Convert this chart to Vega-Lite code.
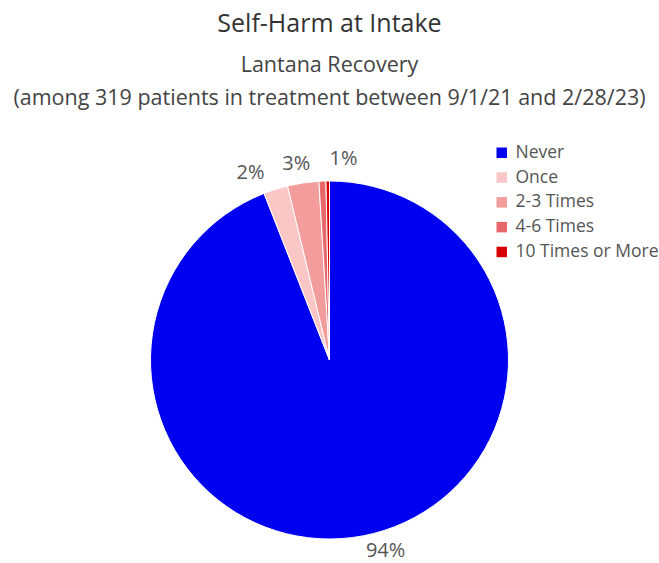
{
  "$schema": "https://vega.github.io/schema/vega-lite/v6.json",
  "width": 659,
  "height": 400,
  "autosize": {"type": "none"},
  "padding": {"top": 160, "left": 0, "right": 0, "bottom": 3},
  "background": "white",
  "title": {
    "text": "Self-Harm at Intake",
    "subtitle": ["Lantana Recovery", "(among 319 patients in treatment between  9/1/21 and 2/28/23)"],
    "anchor": "middle",
    "frame": "group",
    "font": "Open Sans",
    "fontSize": 25,
    "fontWeight": "normal",
    "color": "#333333",
    "subtitleFont": "Open Sans",
    "subtitleFontSize": 21.5,
    "subtitleColor": "#444444",
    "subtitlePadding": 18,
    "subtitleLineHeight": 33,
    "offset": 35
  },
  "data": {
    "values": [
      {"category": "Never", "count": 300, "rank": 1},
      {"category": "Once", "count": 7, "rank": 2},
      {"category": "2-3 Times", "count": 9, "rank": 3},
      {"category": "4-6 Times", "count": 2, "rank": 4},
      {"category": "10 Times or More", "count": 1, "rank": 5}
    ]
  },
  "transform": [
    {"joinaggregate": [{"op": "sum", "field": "count", "as": "total"}]},
    {"calculate": "datum.count / datum.total", "as": "pct"},
    {"stack": "count", "groupby": [], "sort": [{"field": "rank", "order": "ascending"}], "as": ["start", "end"]},
    {"calculate": "(datum.start + datum.end) / 2", "as": "mid"}
  ],
  "layer": [
    {
      "mark": {"type": "arc", "outerRadius": 179, "stroke": "white", "strokeWidth": 1},
      "encoding": {
        "theta": {"field": "start", "type": "quantitative", "stack": null, "scale": {"domain": [0, 319]}},
        "theta2": {"field": "end"},
        "color": {
          "field": "category",
          "type": "nominal",
          "sort": ["Never", "Once", "2-3 Times", "4-6 Times", "10 Times or More"],
          "scale": {
            "domain": ["Never", "Once", "2-3 Times", "4-6 Times", "10 Times or More"],
            "range": ["#0000F0", "#FBC6C6", "#F29C9C", "#E8676A", "#D80000"]
          },
          "legend": {
            "title": null,
            "orient": "none",
            "legendX": 493,
            "legendY": -16,
            "symbolType": "square",
            "symbolSize": 110,
            "symbolStrokeWidth": 0,
            "labelFont": "Open Sans",
            "labelFontSize": 17.5,
            "labelColor": "#555555",
            "rowPadding": 5.8,
            "labelOffset": 5
          }
        }
      }
    },
    {
      "transform": [{"filter": "datum.category === 'Never'"}],
      "mark": {"type": "text", "radius": 194, "dx": 20, "font": "Open Sans", "fontSize": 20, "color": "#555555"},
      "encoding": {
        "theta": {"field": "mid", "type": "quantitative", "stack": null},
        "text": {"field": "pct", "type": "quantitative", "format": ".0%"}
      }
    },
    {
      "transform": [{"filter": "datum.category === 'Once'"}],
      "mark": {"type": "text", "radius": 196, "dx": -20, "font": "Open Sans", "fontSize": 20, "color": "#555555"},
      "encoding": {
        "theta": {"field": "mid", "type": "quantitative", "stack": null},
        "text": {"field": "pct", "type": "quantitative", "format": ".0%"}
      }
    },
    {
      "transform": [{"filter": "datum.category === '2-3 Times'"}],
      "mark": {"type": "text", "radius": 198, "dx": -4, "font": "Open Sans", "fontSize": 20, "color": "#555555"},
      "encoding": {
        "theta": {"field": "mid", "type": "quantitative", "stack": null},
        "text": {"field": "pct", "type": "quantitative", "format": ".0%"}
      }
    },
    {
      "transform": [{"filter": "datum.category === '4-6 Times'"}],
      "mark": {"type": "text", "radius": 201, "dx": 22, "font": "Open Sans", "fontSize": 20, "color": "#555555"},
      "encoding": {
        "theta": {"field": "mid", "type": "quantitative", "stack": null},
        "text": {"field": "pct", "type": "quantitative", "format": ".0%"}
      }
    }
  ]
}
